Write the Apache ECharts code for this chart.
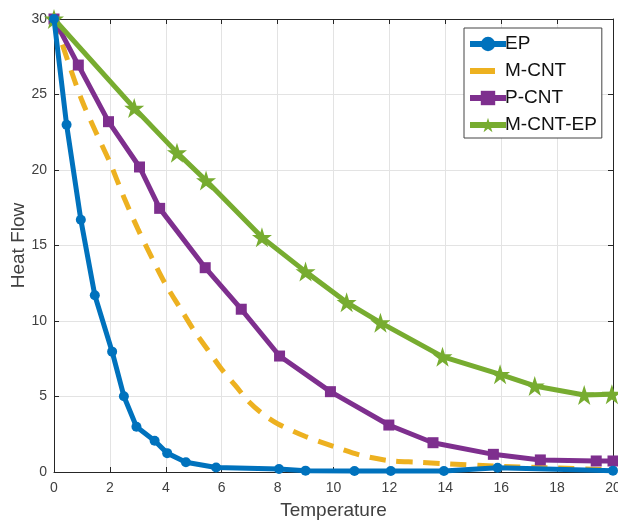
<!DOCTYPE html>
<html><head><meta charset="utf-8">
<script src="https://cdn.jsdelivr.net/npm/echarts@6/dist/echarts.min.js"></script>
<style>html,body{margin:0;padding:0;background:#fff}#c{width:618px;height:520px}</style>
</head><body><div id="c"></div>
<script>
const seriesNames = ['EP', 'M-CNT', 'P-CNT', 'M-CNT-EP'];
const epX = [0, 0.45, 0.96, 1.46, 2.08, 2.5, 2.95, 3.6, 4.05, 4.72, 5.8, 8.05, 9.0, 10.75, 12.05, 13.95, 15.87, 20];
const epY = [30, 23.0, 16.7, 11.7, 7.97, 5.02, 3.0, 2.07, 1.25, 0.65, 0.3, 0.2, 0.09, 0.07, 0.07, 0.07, 0.28, 0.09];
const mcntX = [0, 0.5, 1, 1.5, 2, 2.5, 3, 3.5, 4, 4.5, 5, 5.5, 6, 6.5, 7, 7.5, 8, 9, 10, 11, 12, 13, 14, 16, 18, 20];
const mcntY = [30, 27.2, 24.6, 22.5, 20.5, 18.2, 16.1, 14.2, 12.4, 10.9, 9.4, 8.1, 6.8, 5.7, 4.6, 3.8, 3.2, 2.35, 1.7, 1.1, 0.75, 0.65, 0.55, 0.37, 0.26, 0.15];
const pcntX = [0, 0.87, 1.95, 3.06, 3.78, 5.41, 6.7, 8.07, 9.89, 11.98, 13.56, 15.72, 17.4, 19.4, 20];
const pcntY = [30, 26.95, 23.2, 20.2, 17.46, 13.53, 10.78, 7.68, 5.32, 3.11, 1.94, 1.17, 0.8, 0.73, 0.73];
const mcntepX = [0, 2.87, 4.4, 5.44, 7.44, 9.0, 10.47, 11.68, 13.9, 15.96, 17.2, 18.97, 19.96];
const mcntepY = [30, 24.1, 21.15, 19.3, 15.54, 13.27, 11.24, 9.89, 7.64, 6.47, 5.7, 5.1, 5.15];
const xTicks = [0, 2, 4, 6, 8, 10, 12, 14, 16, 18, 20];
const yTicks = [0, 5, 10, 15, 20, 25, 30];

const pairs = (xs, ys) => xs.map((x, i) => [x, ys[i]]);
const FONT = 'Liberation Sans';
const starPath = 'path://M50,0 L61.2,34.5 L97.6,34.5 L68.2,55.9 L79.4,90.5 L50,69.1 L20.6,90.5 L31.8,55.9 L2.4,34.5 L38.8,34.5 Z';
const axisCol = '#262626';
const textCol = '#404040';

const chart = echarts.init(document.getElementById('c'), null, {renderer: 'canvas'});
const baseAxis = () => ({
  axisLine: {show: true, onZero: false, lineStyle: {color: axisCol, width: 1}},
  axisTick: {show: true, inside: true, length: 5, lineStyle: {color: axisCol}},
});
chart.setOption({
  animation: false,
  backgroundColor: '#fff',
  grid: {left: 54, top: 19, right: 5, bottom: 48, containLabel: false, outerBoundsMode: 'none'},
  legend: {
    orient: 'vertical', left: 464, top: 28,
    data: [
      {name: 'EP'},
      {name: 'M-CNT', itemStyle: {color: 'rgba(0,0,0,0)', borderWidth: 0, opacity: 0}, lineStyle: {type: [25, 20]}},
      {name: 'P-CNT'},
      {name: 'M-CNT-EP'}
    ],
    backgroundColor: '#fff', borderColor: '#444', borderWidth: 1,
    padding: [6, 5, 3, 3], itemGap: 7, itemWidth: 36, itemHeight: 18,
    lineStyle: {width: 6},
    textStyle: {fontFamily: FONT, fontSize: 19, lineHeight: 20, color: '#111', padding: [0, 0, 0, -6]}
  },
  xAxis: [
    Object.assign(baseAxis(), {
      type: 'value', min: 0, max: 20, interval: 2, position: 'bottom',
      name: 'Temperature', nameLocation: 'middle', nameGap: 29, nameMoveOverlap: false,
      nameTextStyle: {fontFamily: FONT, fontSize: 19, color: textCol},
      axisLabel: {fontFamily: FONT, fontSize: 14, color: textCol, margin: 9,
        formatter: v => xTicks.includes(v) ? String(v) : ''},
      splitLine: {show: true, lineStyle: {color: '#e3e3e3', width: 1}}
    }),
    Object.assign(baseAxis(), {
      type: 'value', min: 0, max: 20, interval: 2, position: 'top',
      axisLabel: {show: false}, splitLine: {show: false}
    })
  ],
  yAxis: [
    Object.assign(baseAxis(), {
      type: 'value', min: 0, max: 30, interval: 5, position: 'left',
      name: 'Heat Flow', nameLocation: 'middle', nameGap: 26, nameRotate: 90, nameMoveOverlap: false,
      nameTextStyle: {fontFamily: FONT, fontSize: 19, color: textCol},
      axisLabel: {fontFamily: FONT, fontSize: 14, color: textCol, margin: 7,
        formatter: v => yTicks.includes(v) ? String(v) : ''},
      splitLine: {show: true, lineStyle: {color: '#e3e3e3', width: 1}}
    }),
    Object.assign(baseAxis(), {
      type: 'value', min: 0, max: 30, interval: 5, position: 'right',
      axisLabel: {show: false}, splitLine: {show: false}
    })
  ],
  series: [
    {name: 'EP', type: 'line', data: pairs(epX, epY), symbol: 'circle', symbolSize: 10,
      showAllSymbol: true, clip: false,
      lineStyle: {color: '#0072BD', width: 5}, itemStyle: {color: '#0072BD'}, z: 5},
    {name: 'M-CNT', type: 'line', data: pairs(mcntX, mcntY), symbol: 'none', smooth: 0.3, clip: false,
      lineStyle: {color: '#EDB120', width: 5, type: [16, 11]}, itemStyle: {color: '#EDB120'}, z: 2},
    {name: 'P-CNT', type: 'line', data: pairs(pcntX, pcntY), symbol: 'rect', symbolSize: 11,
      showAllSymbol: true, clip: false,
      lineStyle: {color: '#7E2F8E', width: 5}, itemStyle: {color: '#7E2F8E'}, z: 3},
    {name: 'M-CNT-EP', type: 'line', data: pairs(mcntepX, mcntepY), symbol: starPath, symbolSize: 20,
      showAllSymbol: true, clip: false,
      lineStyle: {color: '#77AC30', width: 5}, itemStyle: {color: '#77AC30'}, z: 4}
  ]
});
</script></body></html>
